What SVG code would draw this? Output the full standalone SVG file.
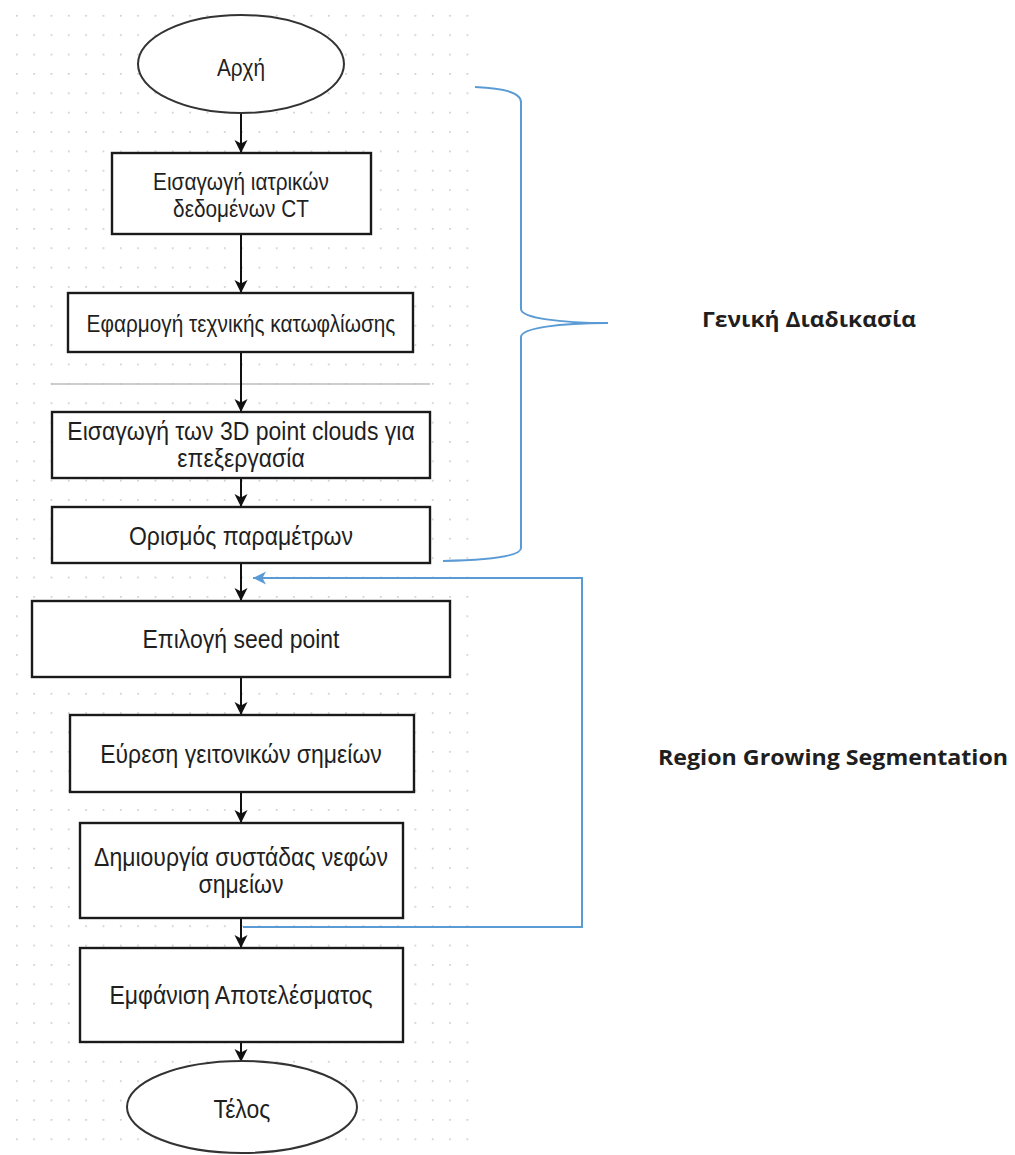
<svg xmlns="http://www.w3.org/2000/svg" width="1015" height="1155" viewBox="0 0 1015 1155">
<defs>
<pattern id="grid" patternUnits="userSpaceOnUse" x="15.9" y="14.9" width="17.33" height="19.37">
<rect x="0" y="0" width="1.7" height="1.7" fill="#cdcdcd"/>
</pattern>
<marker id="ah" markerUnits="userSpaceOnUse" viewBox="0 0 14 14" refX="13" refY="7" markerWidth="14" markerHeight="14" orient="auto">
<path d="M13,7 L0,0.5 L3.5,7 L0,13.5 Z" fill="#111"/>
</marker>
<marker id="ahb" markerUnits="userSpaceOnUse" viewBox="0 0 14 14" refX="13" refY="7" markerWidth="14" markerHeight="14" orient="auto">
<path d="M13,7 L0,0.5 L3.5,7 L0,13.5 Z" fill="#5b9bd5"/>
</marker>
<style>
.box{fill:#fff;stroke:#1a1a1a;stroke-width:2.4}
.ell{fill:#fff;stroke:#333;stroke-width:2}
.t{font-family:"Liberation Sans",Arial,sans-serif;font-size:20.8px;fill:#1f1f1f;text-anchor:middle}
.tl{font-size:23px}
.lbl{font-family:"Open Sans","Noto Sans",sans-serif;font-weight:bold;font-size:22px;fill:#1f1f1f}
.c{fill:none;stroke:#111;stroke-width:2;marker-end:url(#ah)}
.blue{fill:none;stroke:#5b9bd5;stroke-width:2}
</style>
</defs>
<rect width="1015" height="1155" fill="#fff"/>
<rect x="10" y="8" width="463" height="1147" fill="url(#grid)"/>
<line x1="51" y1="384" x2="430" y2="384" stroke="#bdbdbd" stroke-width="1.3"/>

<g id="connectors">
<line class="c" x1="241" y1="114" x2="241" y2="153"/>
<line class="c" x1="241" y1="235" x2="241" y2="293"/>
<line class="c" x1="241" y1="353" x2="241" y2="412"/>
<line class="c" x1="241" y1="479" x2="241" y2="507"/>
<line class="c" x1="241" y1="564" x2="241" y2="601"/>
<line class="c" x1="241" y1="678" x2="241" y2="715"/>
<line class="c" x1="241" y1="793" x2="241" y2="823"/>
<line class="c" x1="241" y1="919" x2="241" y2="948"/>
<line class="c" x1="241" y1="1043" x2="241" y2="1062"/>
<path class="blue" d="M243,927 L582,927 L582,578 L253,578" marker-end="url(#ahb)"/>
<path class="blue" d="M475,87 C500,88 521,92 521,102 L521,309 C521,318 560,323 608,323 C560,323 521,328 521,337 L521,548 C521,556 490,560 443,561"/>
</g>

<g id="start">
<ellipse class="ell" cx="241" cy="64" rx="103" ry="49"/>
<text class="t" transform="translate(241 76) scale(1 1.12)">Αρχή</text>
</g>
<g id="input-ct">
<rect class="box" x="112" y="153" width="259" height="81"/>
<text class="t" transform="translate(241 190) scale(1 1.12)">Εισαγωγή ιατρικών</text>
<text class="t" transform="translate(241 217) scale(1 1.12)">δεδομένων CT</text>
</g>
<g id="threshold">
<rect class="box" x="68" y="293" width="345" height="59"/>
<text class="t" transform="translate(241 332) scale(1 1.12)">Εφαρμογή τεχνικής κατωφλίωσης</text>
</g>
<g id="input-pc">
<rect class="box" x="52" y="412" width="378" height="66"/>
<text class="t tl" transform="translate(241 440) scale(1 1.12)">Εισαγωγή των 3D point clouds για</text>
<text class="t tl" transform="translate(241 467) scale(1 1.12)">επεξεργασία</text>
</g>
<g id="params">
<rect class="box" x="52" y="507" width="378" height="56"/>
<text class="t tl" transform="translate(241 545) scale(1 1.12)">Ορισμός παραμέτρων</text>
</g>
<g id="seed">
<rect class="box" x="32" y="601" width="418" height="76"/>
<text class="t tl" transform="translate(241 648) scale(1 1.12)">Επιλογή seed point</text>
</g>
<g id="neighbors">
<rect class="box" x="70" y="715" width="344" height="77"/>
<text class="t tl" transform="translate(241 763) scale(1 1.12)">Εύρεση γειτονικών σημείων</text>
</g>
<g id="cluster">
<rect class="box" x="80" y="823" width="323" height="95"/>
<text class="t tl" transform="translate(241 866) scale(1 1.12)">Δημιουργία συστάδας νεφών</text>
<text class="t tl" transform="translate(241 893) scale(1 1.12)">σημείων</text>
</g>
<g id="result">
<rect class="box" x="80" y="948" width="323" height="94"/>
<text class="t tl" transform="translate(241 1004) scale(1 1.12)">Εμφάνιση Αποτελέσματος</text>
</g>
<g id="end">
<ellipse class="ell" cx="242" cy="1107" rx="115" ry="46"/>
<text class="t tl" transform="translate(242 1118) scale(1 1.12)">Τέλος</text>
</g>
<g id="label-general">
<text class="lbl" x="702" y="327" textLength="214" lengthAdjust="spacingAndGlyphs">Γενική Διαδικασία</text>
</g>
<g id="label-rgs">
<text class="lbl" x="658" y="765" textLength="350" lengthAdjust="spacingAndGlyphs">Region Growing Segmentation</text>
</g>
</svg>
